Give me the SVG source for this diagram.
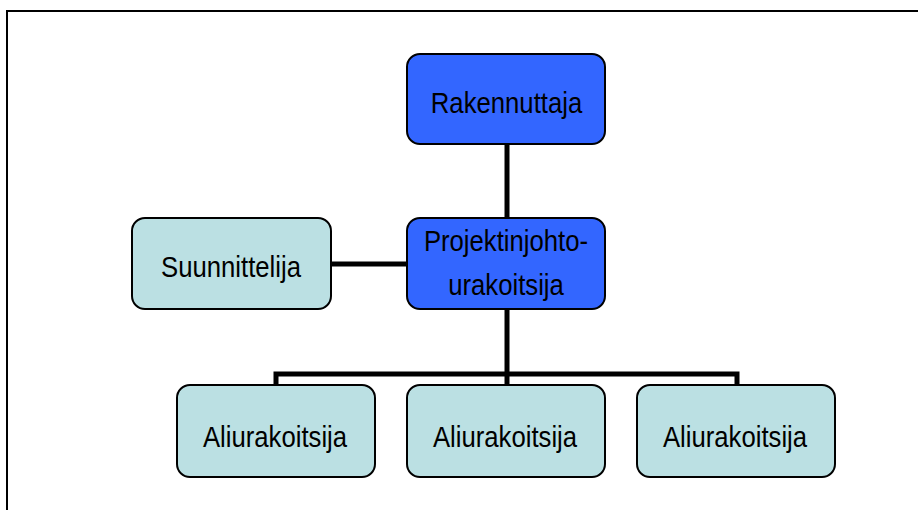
<svg xmlns="http://www.w3.org/2000/svg" width="918" height="510" viewBox="0 0 918 510">
  <style>
    .frame { fill: none; stroke: #000; stroke-width: 2; }
    .box { stroke: #000; stroke-width: 2; }
    .main { fill: #3366FF; }
    .side { fill: #BBE0E3; }
    .lbl { font-family: "Liberation Sans", Arial, sans-serif; font-size: 25.7px; fill: #000; text-anchor: middle; }
    .conn { fill: none; stroke: #000; stroke-width: 5; }
  </style>
  <rect width="918" height="510" fill="#fff"/>
  <!-- page border: top and left edges only -->
  <polyline class="frame" points="7,510 7,11 918,11"/>

  <g id="connectors">
    <line class="conn" x1="507" y1="144" x2="507" y2="219"/>
    <line class="conn" x1="331" y1="264" x2="408" y2="264"/>
    <line class="conn" x1="507" y1="309" x2="507" y2="386"/>
    <polyline class="conn" points="276,386 276,374 737,374 737,386"/>
  </g>

  <g id="rakennuttaja">
    <rect class="box main" x="407" y="54" width="198" height="90" rx="13"/>
    <text class="lbl" transform="translate(506.5,113) scale(1,1.14)">Rakennuttaja</text>
  </g>
  <g id="projektinjohtourakoitsija">
    <rect class="box main" x="407" y="218" width="198" height="91" rx="13"/>
    <text class="lbl" transform="translate(506,251) scale(1,1.14)">Projektinjohto-</text>
    <text class="lbl" transform="translate(506,295) scale(1,1.14)">urakoitsija</text>
  </g>
  <g id="suunnittelija">
    <rect class="box side" x="132" y="218" width="199" height="91" rx="13"/>
    <text class="lbl" transform="translate(231,277) scale(1,1.14)">Suunnittelija</text>
  </g>
  <g id="aliurakoitsija-1">
    <rect class="box side" x="177" y="385" width="198" height="92" rx="13"/>
    <text class="lbl" transform="translate(275,447) scale(1,1.14)">Aliurakoitsija</text>
  </g>
  <g id="aliurakoitsija-2">
    <rect class="box side" x="407" y="385" width="198" height="92" rx="13"/>
    <text class="lbl" transform="translate(505,447) scale(1,1.14)">Aliurakoitsija</text>
  </g>
  <g id="aliurakoitsija-3">
    <rect class="box side" x="637" y="385" width="198" height="92" rx="13"/>
    <text class="lbl" transform="translate(735,447) scale(1,1.14)">Aliurakoitsija</text>
  </g>
</svg>
